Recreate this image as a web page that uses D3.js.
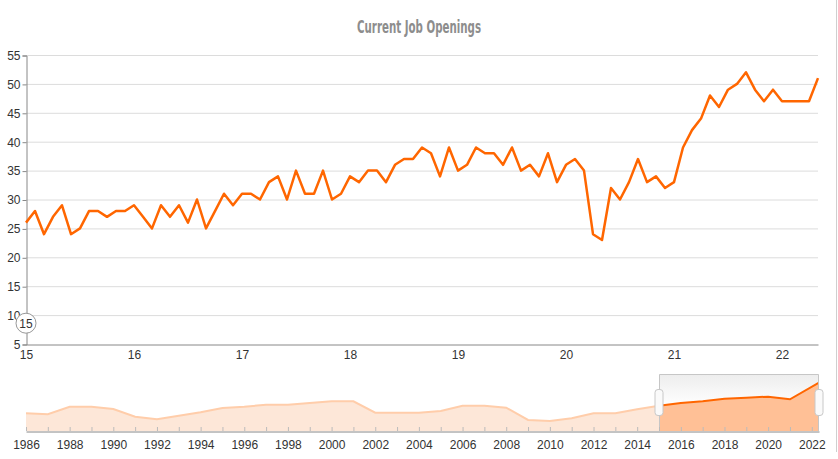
<!DOCTYPE html>
<html><head><meta charset="utf-8">
<script src="https://cdn.jsdelivr.net/npm/d3@7"></script>
<style>
html,body{margin:0;padding:0;background:#fff;}
svg{display:block;font-family:"Liberation Sans",Arial,sans-serif;}
</style></head>
<body>
<svg id="chart" width="838" height="459"></svg>
<script>
// ---- data ----
const chartTitle = "Current Job Openings";
const startYear = 2015, startMonth = 0; // monthly series starts Jan 2015
const openings = [26,28,24,27,29,24,25,28,28,27,28,28,29,27,25,29,27,29,26,30,25,28,31,29,
  31,31,30,33,34,30,35,31,31,35,30,31,34,33,35,35,33,36,37,37,39,38,
  34,39,35,36,39,38,38,36,39,35,36,34,38,33,36,37,35,24,23,32,30,33,
  37,33,34,32,33,39,42,44,48,46,49,50,52,49,47,49,47,47,47,47,51];
const yTicks = [5,10,15,20,25,30,35,40,45,50,55];
const xTickYears = [2015,2016,2017,2018,2019,2020,2021,2022];
const navYears = [1986,1987,1988,1989,1990,1991,1992,1993,1994,1995,1996,1997,1998,1999,2000,2001,2002,2003,2004,2005,2006,2007,2008,2009,2010,2011,2012,2013,2014,2015,2016,2017,2018,2019,2020,2021,2022.33];
const navValues = [19.0,17.9,26.0,26.0,23.6,15.3,12.5,16.4,20.0,24.6,26.0,28.2,28.2,30.0,31.8,31.8,19.6,19.6,19.6,21.4,27.1,27.1,25.0,11.8,10.7,13.6,19.0,19.0,23.3,27.1,30.0,31.8,34.6,35.7,36.8,34.0,51.8];
const navTickYears = [1986,1988,1990,1992,1994,1996,1998,2000,2002,2004,2006,2008,2010,2012,2014,2016,2018,2020,2022];
const selectedRange = [2015, 2022.33];

const svg = d3.select("#chart");
const orange = "#ff6600";

// title
svg.append("text").attr("x",419).attr("y",33).attr("text-anchor","middle")
  .attr("font-family","'Liberation Sans Narrow','DejaVu Sans Condensed',sans-serif")
  .attr("font-size",17).attr("font-weight","bold").attr("fill","#8d8d8d")
  .attr("textLength",124).attr("lengthAdjust","spacingAndGlyphs")
  .text(chartTitle);

// right border
svg.append("line").attr("x1",836.5).attr("x2",836.5).attr("y1",0).attr("y2",452)
  .attr("stroke","#cfcfcf");

// ---- main chart ----
const dates = openings.map((v,i)=>startYear + (startMonth+i)/12);
const x = d3.scaleLinear().domain([2015, dates[dates.length-1]]).range([26, 818]);
const y = d3.scaleLinear().domain([5,55]).range([344,55]);

// grid
svg.append("g").selectAll("line").data(yTicks.filter(d=>d>5)).join("line")
  .attr("x1",26).attr("x2",818).attr("y1",d=>y(d)+0.5).attr("y2",d=>y(d)+0.5)
  .attr("stroke","#dcdcdc");

// y axis
const yAxis = d3.axisLeft(y).tickValues(yTicks).tickSize(4).tickPadding(2);
const gy = svg.append("g").attr("transform","translate(26.5,0.5)").call(yAxis);
gy.select(".domain").attr("stroke","#888");
gy.selectAll(".tick line").attr("stroke","#888");
gy.selectAll("text").attr("fill","#333").attr("font-size",12).attr("font-family","'Liberation Sans',Arial,sans-serif");

// x axis
const xAxis = d3.axisBottom(x).tickValues(xTickYears).tickSize(0).tickPadding(6)
  .tickFormat(d=>String(d%100).padStart(2,"0"));
const gx = svg.append("g").attr("transform","translate(0,344.5)").call(xAxis);
gx.select(".domain").attr("stroke","#888");
gx.selectAll("text").attr("fill","#333").attr("font-size",12).attr("font-family","'Liberation Sans',Arial,sans-serif");

// line
const line = d3.line().x((d,i)=>x(dates[i])).y(d=>y(d));
svg.append("path").datum(openings).attr("d",line)
  .attr("fill","none").attr("stroke",orange).attr("stroke-width",2.5)
  .attr("stroke-linejoin","round");

// circle marker "15"
const mk = svg.append("g").attr("transform",`translate(${x(2015)},${y(8.6)})`);
mk.append("circle").attr("r",10).attr("fill","#fff").attr("stroke","#999");
mk.append("text").attr("text-anchor","middle").attr("dy","0.36em").attr("font-size",12)
  .attr("fill","#333").text("15");

// ---- navigator ----
const nx = d3.scaleLinear().domain([1986, 2022.33]).range([26, 819]);
const ny = d3.scaleLinear().domain([0,60]).range([431,375]);
const navTop = 374.5, navBottom = 431;

const defs = svg.append("defs");
const grad = defs.append("linearGradient").attr("id","selGrad").attr("x1",0).attr("x2",0).attr("y1",0).attr("y2",1);
grad.append("stop").attr("offset","0%").attr("stop-color","#ededed");
grad.append("stop").attr("offset","55%").attr("stop-color","#ffffff");
defs.append("clipPath").attr("id","clipIn").append("rect")
  .attr("x",nx(selectedRange[0])).attr("y",navTop).attr("width",nx(selectedRange[1])-nx(selectedRange[0])).attr("height",navBottom-navTop);
const cpOut = defs.append("clipPath").attr("id","clipOut");
cpOut.append("rect").attr("x",0).attr("y",navTop-5).attr("width",nx(selectedRange[0])).attr("height",70);

svg.append("rect").attr("x",nx(selectedRange[0])).attr("y",navTop)
  .attr("width",nx(selectedRange[1])-nx(selectedRange[0])).attr("height",navBottom-navTop)
  .attr("fill","url(#selGrad)");

const navArea = d3.area().x((d,i)=>nx(navYears[i])).y0(navBottom).y1(d=>ny(d));
const navLine = d3.line().x((d,i)=>nx(navYears[i])).y(d=>ny(d));

svg.append("path").datum(navValues).attr("d",navArea).attr("fill","#fde7d8").attr("clip-path","url(#clipOut)");
svg.append("path").datum(navValues).attr("d",navLine).attr("fill","none").attr("stroke","#ffcdaa").attr("stroke-width",2).attr("clip-path","url(#clipOut)");
svg.append("path").datum(navValues).attr("d",navArea).attr("fill","#ffc096").attr("clip-path","url(#clipIn)");
svg.append("path").datum(navValues).attr("d",navLine).attr("fill","none").attr("stroke",orange).attr("stroke-width",2).attr("clip-path","url(#clipIn)");

// selection outline
svg.append("path")
  .attr("d",`M${nx(selectedRange[0])+0.5},${navBottom}V${navTop}H${nx(selectedRange[1])-0.5}V${navBottom}`)
  .attr("fill","none").attr("stroke","#c6c6c6");

// nav axis
const nAxis = d3.axisBottom(nx).tickValues(navTickYears).tickSize(0).tickPadding(9).tickFormat(d3.format("d"));
const gn = svg.append("g").attr("transform","translate(0,431.5)").call(nAxis);
gn.select(".domain").attr("stroke","#888");
gn.selectAll("text").attr("fill","#333").attr("font-size",12).attr("font-family","'Liberation Sans',Arial,sans-serif");
svg.append("g").selectAll("line").data(d3.range(1986,2023)).join("line")
  .attr("x1",d=>nx(d)+0.5).attr("x2",d=>nx(d)+0.5).attr("y1",427).attr("y2",431)
  .attr("stroke","#bbb");

// handles
selectedRange.forEach(v=>{
  svg.append("rect").attr("x",nx(v)-4).attr("y",389.5).attr("width",8).attr("height",26).attr("rx",3)
    .attr("fill","#fafafa").attr("stroke","#c8c8c8");
});
</script>
</body></html>
